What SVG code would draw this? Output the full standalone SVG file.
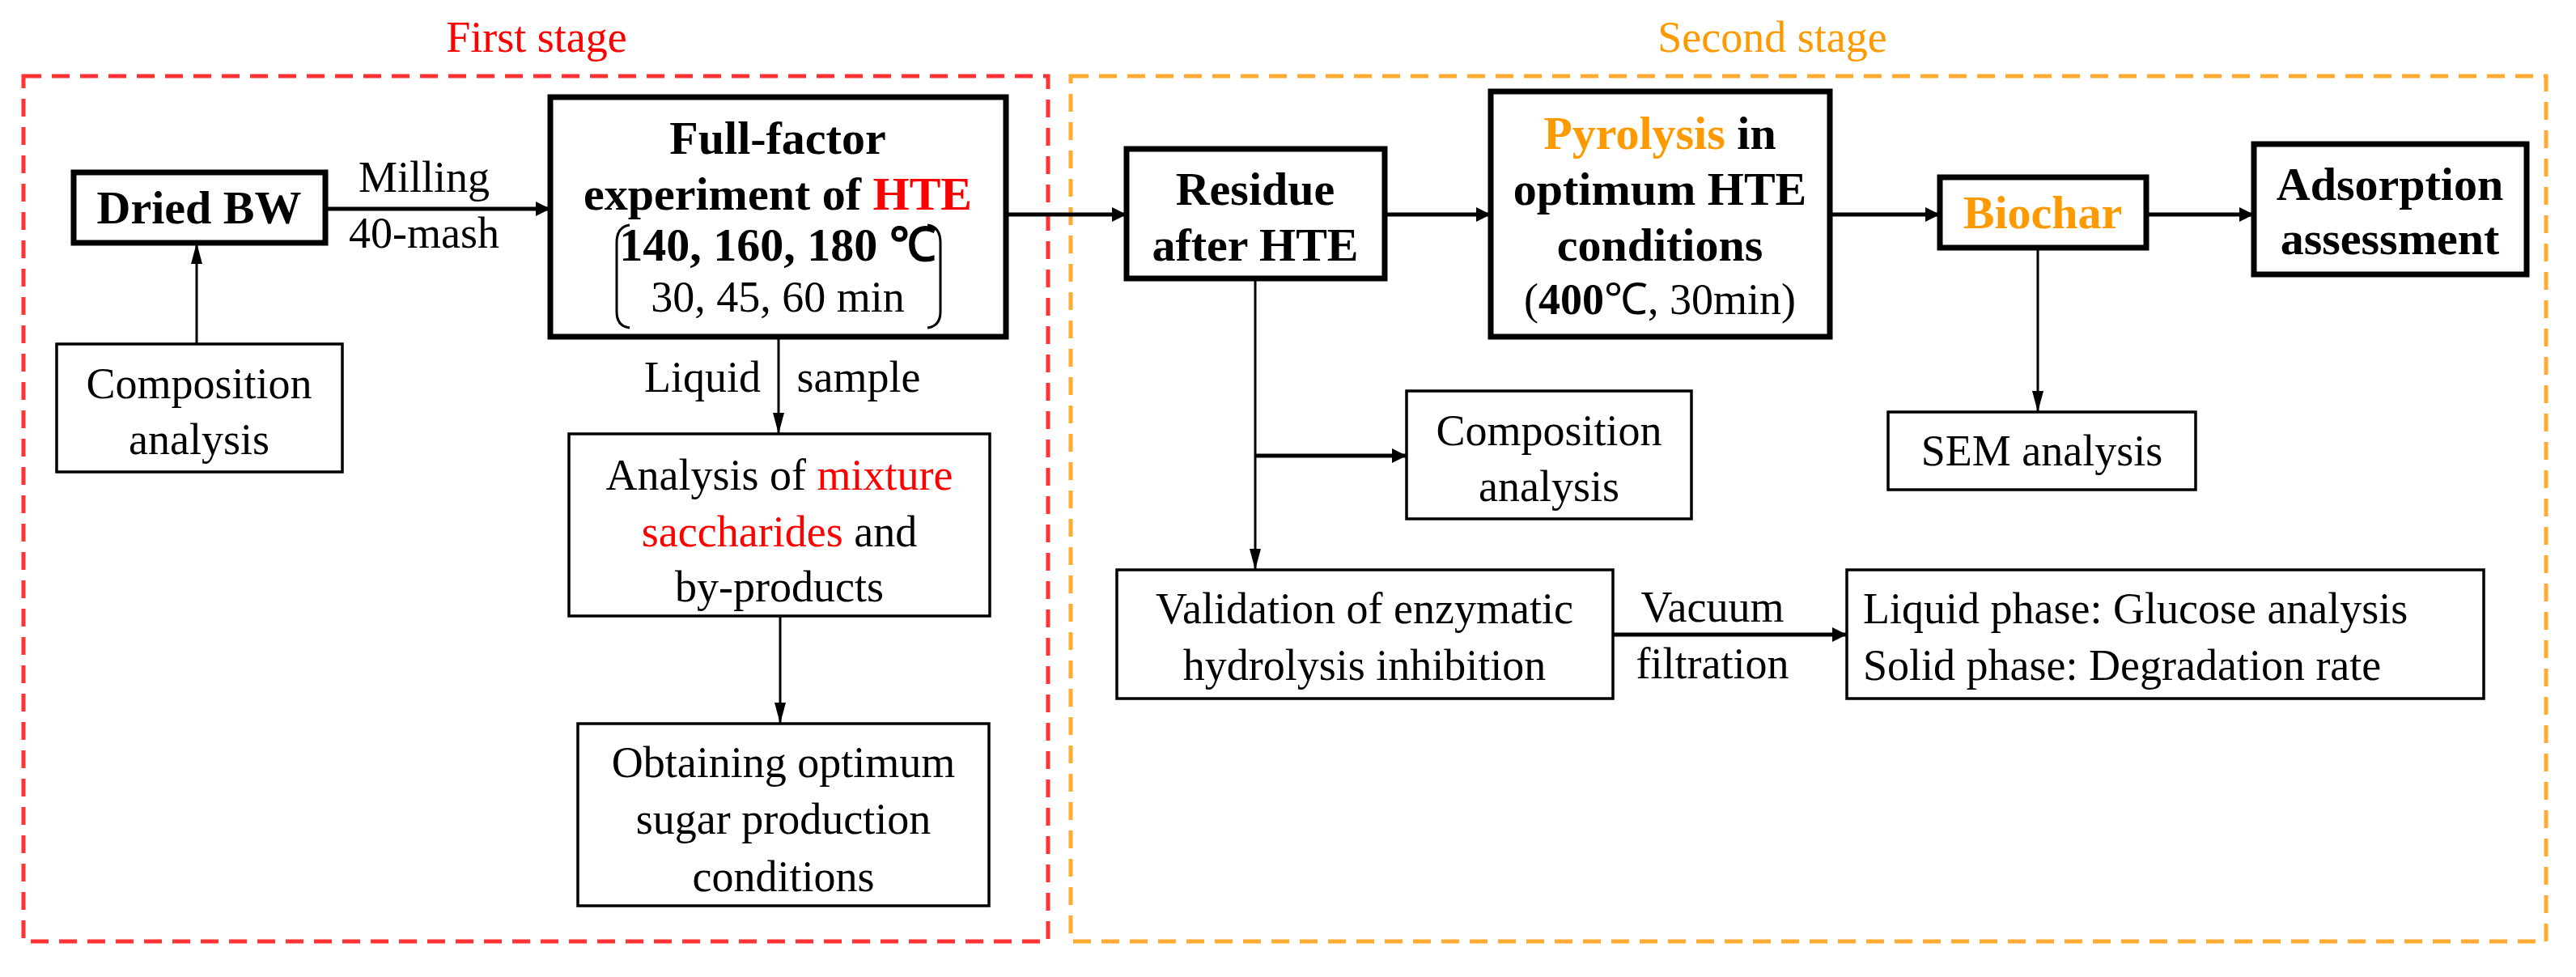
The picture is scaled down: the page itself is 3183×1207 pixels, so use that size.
<svg xmlns="http://www.w3.org/2000/svg" width="3183" height="1207" viewBox="0 0 3183 1207">
<style>
text{font-family:"Liberation Serif","Times New Roman",serif;font-size:54px;fill:#000;text-anchor:middle}
.b{font-weight:bold;font-size:58px}
.red{fill:#ff0000}.org{fill:#ff9900}
.thick{fill:#fff;stroke:#000;stroke-width:7}
.thin{fill:#fff;stroke:#000;stroke-width:3.5}
.ln{stroke:#000;stroke-width:3;fill:none}
.lnb{stroke:#000;stroke-width:5;fill:none}
</style>
<defs>
<marker id="a" viewBox="0 0 10 10" refX="10" refY="5" markerWidth="9" markerHeight="9" markerUnits="userSpaceOnUse" orient="auto"><path d="M0,0L10,5L0,10z"/></marker>
<marker id="ab" viewBox="0 0 10 10" refX="10" refY="5" markerWidth="18" markerHeight="18" markerUnits="userSpaceOnUse" orient="auto"><path d="M0,0L10,5L0,10z"/></marker>
<marker id="an" viewBox="0 0 10 10" refX="10" refY="5" markerWidth="26" markerHeight="14" markerUnits="userSpaceOnUse" orient="auto" preserveAspectRatio="none"><path d="M0,0L10,5L0,10z"/></marker>
</defs>
<g id="stages">
<rect x="29" y="94" width="1266" height="1069" fill="none" stroke="#ff3333" stroke-width="5" stroke-dasharray="22,13"/>
<rect x="1323" y="94" width="1823" height="1069" fill="none" stroke="#ffaa33" stroke-width="5" stroke-dasharray="22,13"/>
<text x="663" y="64" class="red">First stage</text>
<text x="2190" y="64" class="org">Second stage</text>
</g>
<g id="connectors">
<line class="lnb" x1="402" y1="258" x2="680" y2="258" marker-end="url(#ab)"/>
<line class="ln" x1="243" y1="425" x2="243" y2="300" marker-end="url(#an)"/>
<line class="ln" x1="962" y1="416" x2="962" y2="536" marker-end="url(#an)"/>
<line class="ln" x1="964" y1="761" x2="964" y2="894" marker-end="url(#an)"/>
<line class="lnb" x1="1243" y1="265" x2="1392" y2="265" marker-end="url(#ab)"/>
<line class="lnb" x1="1711" y1="265" x2="1842" y2="265" marker-end="url(#ab)"/>
<line class="lnb" x1="2261" y1="265" x2="2397" y2="265" marker-end="url(#ab)"/>
<line class="lnb" x1="2652" y1="265" x2="2785" y2="265" marker-end="url(#ab)"/>
<line class="ln" x1="1551" y1="344" x2="1551" y2="704" marker-end="url(#an)"/>
<line class="lnb" x1="1551" y1="563" x2="1738" y2="563" marker-end="url(#ab)"/>
<line class="ln" x1="2518" y1="306" x2="2518" y2="509" marker-end="url(#an)"/>
<line class="lnb" x1="1993" y1="784" x2="2282" y2="784" marker-end="url(#ab)"/>
<text x="524" y="237">Milling</text>
<text x="524" y="306">40-mash</text>
<text x="868" y="484">Liquid</text>
<text x="1061" y="484">sample</text>
<text x="2116" y="768">Vacuum</text>
<text x="2116" y="838">filtration</text>
</g>
<g id="dried">
<rect class="thick" x="91" y="213" width="311" height="87"/>
<text class="b" x="246" y="276">Dried BW</text>
</g>
<g id="comp1">
<rect class="thin" x="70" y="425" width="353" height="158"/>
<text x="246" y="492">Composition</text>
<text x="246" y="561">analysis</text>
</g>
<g id="fullfactor">
<rect class="thick" x="680" y="120" width="563" height="296"/>
<text class="b" x="961" y="190">Full-factor</text>
<text class="b" x="961" y="259">experiment of <tspan class="red">HTE</tspan></text>
<text class="b" x="961" y="322">140, 160, 180 ℃</text>
<text x="961" y="385">30, 45, 60 min</text>
<path class="ln" d="M778,278 Q762,280 762,300 L762,385 Q762,403 778,405"/>
<path class="ln" d="M1146,278 Q1162,280 1162,300 L1162,385 Q1162,403 1146,405"/>
</g>
<g id="analysis">
<rect class="thin" x="703" y="536" width="520" height="225"/>
<text x="963" y="605">Analysis of <tspan class="red">mixture</tspan></text>
<text x="963" y="675"><tspan class="red">saccharides</tspan> and</text>
<text x="963" y="743">by-products</text>
</g>
<g id="obtaining">
<rect class="thin" x="714" y="894" width="508" height="225"/>
<text x="968" y="960">Obtaining optimum</text>
<text x="968" y="1030">sugar production</text>
<text x="968" y="1101">conditions</text>
</g>
<g id="residue">
<rect class="thick" x="1392" y="184" width="319" height="160"/>
<text class="b" x="1551" y="253">Residue</text>
<text class="b" x="1551" y="322">after HTE</text>
</g>
<g id="pyrolysis">
<rect class="thick" x="1842" y="113" width="419" height="303"/>
<text class="b" x="2051" y="184"><tspan class="org">Pyrolysis</tspan> in</text>
<text class="b" x="2051" y="253">optimum HTE</text>
<text class="b" x="2051" y="322">conditions</text>
<text x="2051" y="388">(<tspan font-weight="bold">400</tspan>℃, 30min)</text>
</g>
<g id="biochar">
<rect class="thick" x="2397" y="219" width="255" height="87"/>
<text class="b org" x="2524" y="282">Biochar</text>
</g>
<g id="adsorption">
<rect class="thick" x="2785" y="178" width="337" height="161"/>
<text class="b" x="2953" y="247">Adsorption</text>
<text class="b" x="2953" y="314">assessment</text>
</g>
<g id="comp2">
<rect class="thin" x="1738" y="483" width="352" height="158"/>
<text x="1914" y="550">Composition</text>
<text x="1914" y="619">analysis</text>
</g>
<g id="sem">
<rect class="thin" x="2333" y="509" width="380" height="96"/>
<text x="2523" y="575">SEM analysis</text>
</g>
<g id="validation">
<rect class="thin" x="1380" y="704" width="613" height="159"/>
<text x="1686" y="770">Validation of enzymatic</text>
<text x="1686" y="840">hydrolysis inhibition</text>
</g>
<g id="result">
<rect class="thin" x="2282" y="704" width="787" height="159"/>
<text x="2302" y="770" text-anchor="start" style="text-anchor:start">Liquid phase: Glucose analysis</text>
<text x="2302" y="840" text-anchor="start" style="text-anchor:start">Solid phase: Degradation rate</text>
</g>
</svg>
